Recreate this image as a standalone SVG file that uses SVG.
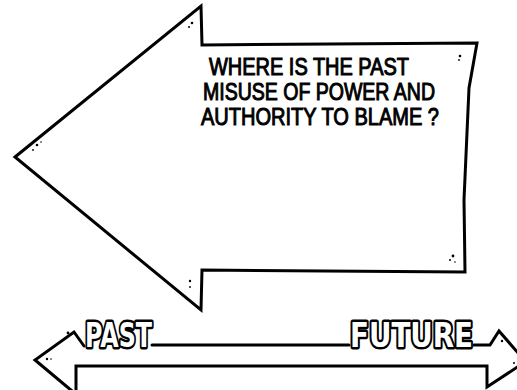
<svg xmlns="http://www.w3.org/2000/svg" width="517" height="390" viewBox="0 0 517 390">
<style>
.ink{fill:none;stroke:#000;stroke-width:3;stroke-linejoin:miter;stroke-linecap:round}
.hand{font-family:"Liberation Sans",Arial,sans-serif;font-size:23px;fill:#000;stroke:#000;stroke-width:1}
.bubble{font-family:"DejaVu Sans",sans-serif;font-weight:bold;font-size:34px;fill:#fff;stroke:#000;stroke-width:5;stroke-linejoin:round;paint-order:stroke}
.speck{fill:#000}
</style>
<rect width="517" height="390" fill="#fff"/>
<g id="blame-arrow">
<path class="ink" d="M15,157 L201,6 L202,45 L477,43 L469,88 L464,200 L465,272 L202,270 L201,310 Z"/>
<text class="hand" x="209" y="75" textLength="200" lengthAdjust="spacingAndGlyphs">WHERE IS THE PAST</text>
<text class="hand" x="203" y="100" textLength="232" lengthAdjust="spacingAndGlyphs">MISUSE OF POWER AND</text>
<text class="hand" x="201" y="125" textLength="238" lengthAdjust="spacingAndGlyphs">AUTHORITY TO BLAME ?</text>
</g>
<g id="specks">
<circle class="speck" cx="192" cy="23" r="1.3"/><circle class="speck" cx="189" cy="27" r="1"/>
<circle class="speck" cx="460" cy="56" r="1.3"/><circle class="speck" cx="459" cy="60" r="0.9"/>
<circle class="speck" cx="37" cy="145" r="1.3"/><circle class="speck" cx="33" cy="150" r="0.9"/><circle class="speck" cx="41" cy="142" r="0.8"/>
<circle class="speck" cx="453" cy="256" r="1.4"/><circle class="speck" cx="450" cy="260" r="1"/><circle class="speck" cx="455" cy="262" r="0.8"/>
<circle class="speck" cx="190" cy="281" r="1.2"/><circle class="speck" cx="190" cy="287" r="0.9"/>
<circle class="speck" cx="68" cy="333" r="1.4"/><circle class="speck" cx="66" cy="338" r="1"/>
<circle class="speck" cx="47" cy="359" r="1.2"/><circle class="speck" cx="51" cy="359" r="0.8"/>
<circle class="speck" cx="502" cy="341" r="1.2"/><circle class="speck" cx="514" cy="363" r="1"/>
</g>
<g id="connectors">
<path class="ink" d="M84,346 L74,332 L35,360 L72,391"/>
<path class="ink" d="M76,391 L76,366 L487,366 L487,387 L519,366"/>
<path class="ink" d="M152,345 L349,345"/>
<path class="ink" d="M474,345 L490,345 L499,331 L519,354"/>
</g>
<g id="past">
<text class="bubble" x="85" y="347" textLength="67" lengthAdjust="spacingAndGlyphs">PAST</text>
</g>
<g id="future">
<text class="bubble" x="350" y="347" textLength="123" lengthAdjust="spacingAndGlyphs">FUTURE</text>
</g>
</svg>
